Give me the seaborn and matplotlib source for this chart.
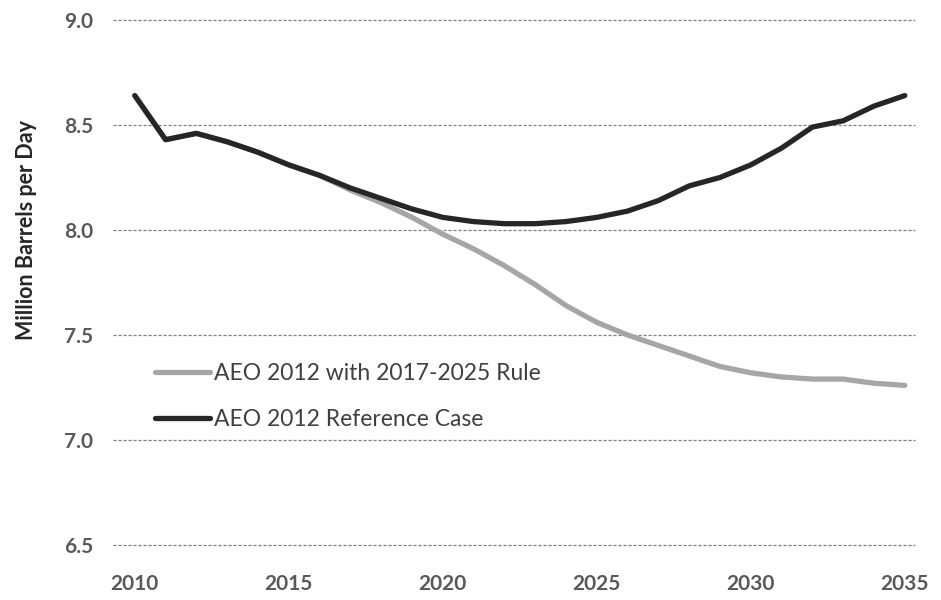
import pandas as pd
import seaborn as sns
import matplotlib.pyplot as plt

years = list(range(2010, 2036))

# Million barrels per day
reference_case = [8.64, 8.43, 8.46, 8.42, 8.37, 8.31, 8.26, 8.20, 8.15, 8.10,
                  8.06, 8.04, 8.03, 8.03, 8.04, 8.06, 8.09, 8.14, 8.21, 8.25,
                  8.31, 8.39, 8.49, 8.52, 8.59, 8.64]
rule_case = [8.64, 8.43, 8.46, 8.42, 8.37, 8.31, 8.26, 8.19, 8.13, 8.06,
             7.98, 7.91, 7.83, 7.74, 7.64, 7.56, 7.50, 7.45, 7.40, 7.35,
             7.32, 7.30, 7.29, 7.29, 7.27, 7.26]

series_names = ["AEO 2012 with 2017-2025 Rule", "AEO 2012 Reference Case"]
y_ticks = [6.5, 7.0, 7.5, 8.0, 8.5, 9.0]
x_ticks = [2010, 2015, 2020, 2025, 2030, 2035]

df = pd.DataFrame({
    "year": years * 2,
    "value": rule_case + reference_case,
    "series": [series_names[0]] * len(years) + [series_names[1]] * len(years),
})

sns.set_theme(style="white")
plt.rcParams['font.family'] = ['Lato', 'DejaVu Sans']

fig = plt.figure(figsize=(9.41, 6), dpi=100)
ax = fig.add_axes([0.12, 0.0917, 0.852, 0.875])

# dashed horizontal gridlines (not clipped so the 6.5 and 9.0 lines show fully)
for y in y_ticks:
    ax.axhline(y, color="#7f7f7f", linestyle=(0, (2.5, 1.5)), linewidth=0.9,
               zorder=0, clip_on=False)

sns.lineplot(data=df, x="year", y="value", hue="series",
             palette={series_names[0]: "#a6a6a6", series_names[1]: "#262626"},
             linewidth=3.8, ax=ax, legend=True)

ax.set_xlim(2009.29, 2035.32)
ax.set_ylim(6.5, 9.0)
ax.set_xticks(x_ticks)
ax.set_yticks(y_ticks)
ax.set_yticklabels([f"{v:.1f}" for v in y_ticks])
ax.tick_params(axis="both", length=0, labelsize=15, labelcolor="#595959")
ax.tick_params(axis="x", pad=21)
ax.tick_params(axis="y", pad=14)
for lab in ax.get_xticklabels() + ax.get_yticklabels():
    lab.set_fontweight("bold")
sns.despine(ax=ax, left=True, bottom=True)

ax.set_xlabel("")
ax.set_ylabel("Million Barrels per Day", fontsize=15.5, fontweight="bold",
              color="#262626")
ax.yaxis.set_label_coords(-0.095, 0.6)

leg = ax.legend(loc="center left", bbox_to_anchor=(0.052, 0.283), frameon=False,
                fontsize=16.5, handlelength=2.4, handletextpad=0.2,
                labelspacing=1.1, borderaxespad=0, borderpad=0)
for text in leg.get_texts():
    text.set_color("#404040")

fig.savefig("out.png", dpi=100)
